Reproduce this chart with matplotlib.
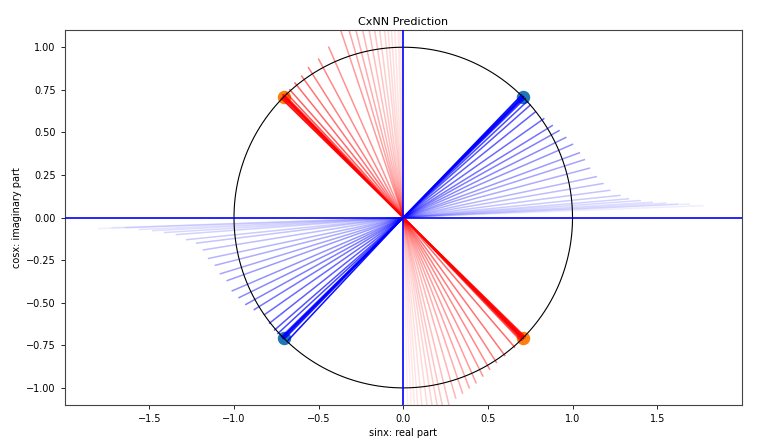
import numpy as np
import matplotlib
matplotlib.use("Agg")
import matplotlib.pyplot as plt

# prediction end points per quadrant, ordered from first (faint) to last (solid)
blue_q1_x = [1.77, 1.69, 1.62, 1.55, 1.47, 1.40, 1.33, 1.28, 1.22, 1.18, 1.14, 1.10, 1.07, 1.04,
             1.00, 0.96, 0.92, 0.88, 0.83, 0.78, 0.75, 0.73, 0.72, 0.71, 0.70, 0.71, 0.70, 0.71]
blue_q1_y = [0.07, 0.08, 0.08, 0.085, 0.09, 0.10, 0.11, 0.13, 0.16, 0.20, 0.24, 0.29, 0.34, 0.38,
             0.43, 0.47, 0.51, 0.54, 0.58, 0.62, 0.66, 0.68, 0.70, 0.70, 0.71, 0.71, 0.72, 0.71]

blue_q3_x = [-1.80, -1.72, -1.64, -1.56, -1.48, -1.41, -1.34, -1.28, -1.22, -1.18, -1.15, -1.11, -1.08, -1.04,
             -1.01, -0.97, -0.93, -0.88, -0.82, -0.79, -0.76, -0.74, -0.72, -0.71, -0.70, -0.71, -0.68, -0.71]
blue_q3_y = [-0.065, -0.06, -0.06, -0.07, -0.077, -0.088, -0.10, -0.13, -0.15, -0.19, -0.24, -0.28, -0.33, -0.37,
             -0.43, -0.47, -0.51, -0.54, -0.57, -0.62, -0.66, -0.68, -0.70, -0.70, -0.71, -0.71, -0.72, -0.70]

red_q2_x = [-0.016, -0.031, -0.044, -0.07, -0.094, -0.115, -0.135, -0.164, -0.19, -0.22, -0.255, -0.29, -0.326, -0.373,
            -0.44, -0.50, -0.56, -0.60, -0.64, -0.67, -0.69, -0.70, -0.705, -0.71, -0.70, -0.71, -0.72, -0.71]
red_q2_y = [1.78, 1.70, 1.62, 1.55, 1.48, 1.41, 1.35, 1.29, 1.24, 1.20, 1.17, 1.14, 1.12, 1.11,
            1.00, 0.93, 0.88, 0.83, 0.79, 0.75, 0.73, 0.72, 0.71, 0.70, 0.71, 0.71, 0.70, 0.72]

red_q4_x = [0.041, 0.068, 0.093, 0.116, 0.143, 0.174, 0.202, 0.227, 0.249, 0.28, 0.31, 0.35, 0.39, 0.43,
            0.47, 0.51, 0.55, 0.60, 0.657, 0.69, 0.70, 0.71, 0.70, 0.71, 0.72, 0.71, 0.70, 0.71]
red_q4_y = [-1.75, -1.65, -1.57, -1.50, -1.43, -1.37, -1.31, -1.25, -1.19, -1.14, -1.06, -1.03, -1.00, -0.97,
            -0.93, -0.89, -0.85, -0.81, -0.76, -0.72, -0.71, -0.70, -0.72, -0.71, -0.70, -0.70, -0.71, -0.71]

# targets
target_blue_x = [0.7071, -0.7071]
target_blue_y = [0.7071, -0.7071]
target_orange_x = [-0.7071, 0.7071]
target_orange_y = [0.7071, -0.7071]


def draw_fan(ax, xs, ys, color):
    n = len(xs)
    for i, (x, y) in enumerate(zip(xs, ys)):
        a = 0.06 + 0.94 * ((i + 1) / n) ** 1.5
        ax.plot([0, x], [0, y], color=color, alpha=a, lw=1.1, zorder=2)


fig = plt.figure(figsize=(7.8, 4.44), dpi=100)
ax = fig.add_axes([0.083, 0.088, 0.868, 0.844])

ax.scatter(target_blue_x, target_blue_y, s=75, color="C0", zorder=1)
ax.scatter(target_orange_x, target_orange_y, s=75, color="C1", zorder=1)

draw_fan(ax, blue_q1_x, blue_q1_y, "blue")
draw_fan(ax, blue_q3_x, blue_q3_y, "blue")
draw_fan(ax, red_q2_x, red_q2_y, "red")
draw_fan(ax, red_q4_x, red_q4_y, "red")

t = np.linspace(0, 2 * np.pi, 400)
ax.plot(np.cos(t), np.sin(t), color="black", lw=0.8, zorder=3)

ax.axhline(0, color="blue", lw=1.2, zorder=4)
ax.axvline(0, color="blue", lw=1.2, zorder=4)

ax.set_xlim(-2.0, 2.0)
ax.set_ylim(-1.1, 1.1)
ax.set_xticks([-1.5, -1.0, -0.5, 0.0, 0.5, 1.0, 1.5])
ax.set_yticks([-1.0, -0.75, -0.5, -0.25, 0.0, 0.25, 0.5, 0.75, 1.0])
ax.tick_params(labelsize=7, length=3, width=0.6)
for s in ax.spines.values():
    s.set_linewidth(0.8)
    s.set_color("#444444")

ax.set_title("CxNN Prediction", fontsize=8, pad=4)
ax.set_xlabel("sinx: real part", fontsize=7, labelpad=3)
ax.set_ylabel("cosx: imaginary part", fontsize=7, labelpad=3)

fig.savefig("out.png", dpi=100)
plt.close(fig)
